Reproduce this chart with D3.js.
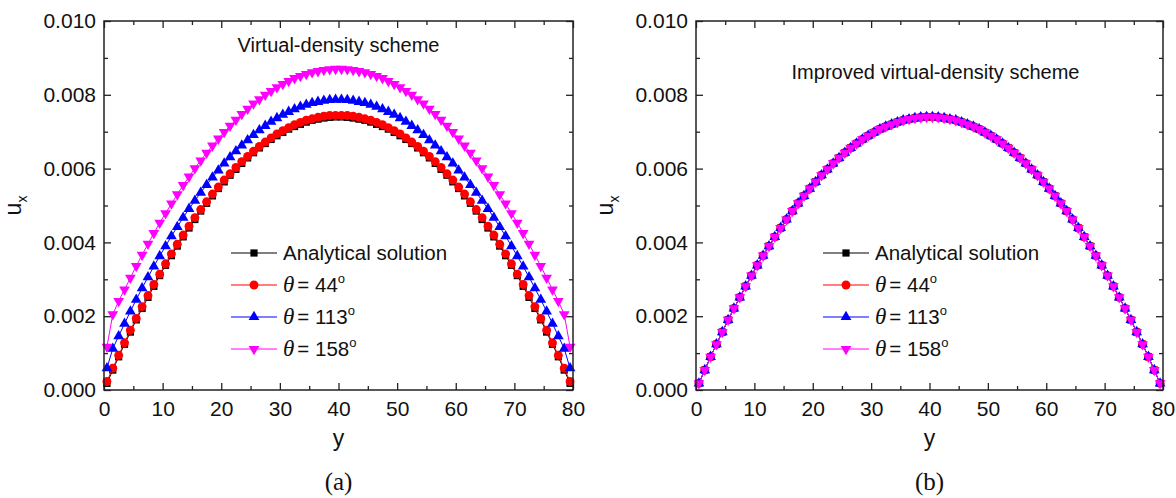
<!DOCTYPE html>
<html>
<head>
<meta charset="utf-8">
<script src="https://cdn.jsdelivr.net/npm/d3@7"></script>
<style>
  body { margin: 0; background: #fff; }
  svg { display: block; font-family: Arial, "Liberation Sans", sans-serif; }
</style>
</head>
<body>
<svg id="chart" width="1176" height="498"></svg>
<script>
// lattice position y (x axis)
const yPos = [0.5,1.5,2.5,3.5,4.5,5.5,6.5,7.5,8.5,9.5,10.5,11.5,12.5,13.5,14.5,15.5,16.5,17.5,18.5,19.5,
  20.5,21.5,22.5,23.5,24.5,25.5,26.5,27.5,28.5,29.5,30.5,31.5,32.5,33.5,34.5,35.5,36.5,37.5,38.5,39.5,
  40.5,41.5,42.5,43.5,44.5,45.5,46.5,47.5,48.5,49.5,50.5,51.5,52.5,53.5,54.5,55.5,56.5,57.5,58.5,59.5,
  60.5,61.5,62.5,63.5,64.5,65.5,66.5,67.5,68.5,69.5,70.5,71.5,72.5,73.5,74.5,75.5,76.5,77.5,78.5,79.5];

// u_x values, in units of 1e-3
const analytical = [0.18,0.54,0.90,1.24,1.57,1.90,2.21,2.51,2.81,3.10,3.38,3.64,3.90,4.15,4.39,4.62,4.85,5.06,5.26,5.46,
  5.64,5.82,5.98,6.14,6.29,6.43,6.56,6.68,6.79,6.89,6.98,7.07,7.14,7.20,7.26,7.31,7.34,7.37,7.39,7.40,
  7.40,7.39,7.37,7.34,7.31,7.26,7.20,7.14,7.07,6.98,6.89,6.79,6.68,6.56,6.43,6.29,6.14,5.98,5.82,5.64,
  5.46,5.26,5.06,4.85,4.62,4.39,4.15,3.90,3.64,3.38,3.10,2.81,2.51,2.21,1.90,1.57,1.24,0.90,0.54,0.18];

// (a) virtual-density scheme
const vd44 = [0.23,0.59,0.94,1.28,1.62,1.94,2.26,2.56,2.86,3.14,3.42,3.69,3.95,4.20,4.44,4.67,4.89,5.10,5.31,5.50,
  5.69,5.86,6.03,6.19,6.33,6.47,6.60,6.72,6.83,6.94,7.03,7.11,7.19,7.25,7.31,7.35,7.39,7.42,7.44,7.44,
  7.44,7.44,7.42,7.39,7.35,7.31,7.25,7.19,7.11,7.03,6.94,6.83,6.72,6.60,6.47,6.33,6.19,6.03,5.86,5.69,
  5.50,5.31,5.10,4.89,4.67,4.44,4.20,3.95,3.69,3.42,3.14,2.86,2.56,2.26,1.94,1.62,1.28,0.94,0.59,0.23];
const vd113 = [0.59,1.12,1.46,1.80,2.13,2.45,2.76,3.06,3.35,3.63,3.90,4.17,4.42,4.67,4.91,5.13,5.35,5.56,5.76,5.95,
  6.14,6.31,6.47,6.63,6.77,6.91,7.04,7.16,7.27,7.37,7.46,7.54,7.61,7.68,7.73,7.78,7.81,7.84,7.86,7.87,
  7.87,7.86,7.84,7.81,7.78,7.73,7.68,7.61,7.54,7.46,7.37,7.27,7.16,7.04,6.91,6.77,6.63,6.47,6.31,6.14,
  5.95,5.76,5.56,5.35,5.13,4.91,4.67,4.42,4.17,3.90,3.63,3.35,3.06,2.76,2.45,2.13,1.80,1.46,1.12,0.59];
const vd158 = [1.17,2.05,2.41,2.72,3.04,3.36,3.66,3.96,4.25,4.53,4.79,5.05,5.30,5.55,5.78,6.01,6.22,6.43,6.62,6.81,
  6.99,7.16,7.32,7.48,7.62,7.76,7.88,8.00,8.10,8.20,8.29,8.37,8.45,8.51,8.56,8.61,8.64,8.67,8.69,8.70,
  8.70,8.69,8.67,8.64,8.61,8.56,8.51,8.45,8.37,8.29,8.20,8.10,8.00,7.88,7.76,7.62,7.48,7.32,7.16,6.99,
  6.81,6.62,6.43,6.22,6.01,5.78,5.55,5.30,5.05,4.79,4.53,4.25,3.96,3.66,3.36,3.04,2.72,2.41,2.05,1.17];

// (b) improved scheme: all three angles sit on the analytical curve
const ivd44 = analytical;
const ivd113 = analytical;
const ivd158 = analytical;

const xTicks = [0, 10, 20, 30, 40, 50, 60, 70, 80];
const xMinor = [5, 15, 25, 35, 45, 55, 65, 75];
const yTicks = [0, 0.002, 0.004, 0.006, 0.008, 0.010];
const yMinor = [0.001, 0.003, 0.005, 0.007, 0.009];
const labels = ["Analytical solution", "44", "113", "158"];
const colors = ["#000000", "#ff0000", "#0000ff", "#ff00ff"];
const UNIT = 1e-3;

const svg = d3.select("#chart");
const plotTop = 21, plotBottom = 390;

const symbols = [
  d3.symbol().type(d3.symbolSquare).size(52),
  d3.symbol().type(d3.symbolCircle).size(62),
  d3.symbol().type(d3.symbolTriangle).size(50),
  d3.symbol().type(d3.symbolTriangle).size(50)
];
const rotations = [0, 0, 0, 180];

function drawPanel(left, right, series, note, noteX, noteY, caption) {
  const g = svg.append("g");
  const x = d3.scaleLinear().domain([0, 80]).range([left, right]);
  const y = d3.scaleLinear().domain([0, 0.010]).range([plotBottom, plotTop]);

  // axes with inward ticks
  g.append("g").attr("transform", `translate(0,${plotBottom})`)
    .call(d3.axisBottom(x).tickValues(xTicks).tickSize(-7).tickPadding(11).tickFormat(d3.format("d")));
  g.append("g").attr("transform", `translate(0,${plotBottom})`)
    .call(d3.axisBottom(x).tickValues(xMinor).tickSize(-4).tickFormat(""));
  g.append("g").attr("transform", `translate(0,${plotTop})`)
    .call(d3.axisTop(x).tickValues(xTicks).tickSize(-7).tickFormat(""));
  g.append("g").attr("transform", `translate(0,${plotTop})`)
    .call(d3.axisTop(x).tickValues(xMinor).tickSize(-4).tickFormat(""));
  g.append("g").attr("transform", `translate(${left},0)`)
    .call(d3.axisLeft(y).tickValues(yTicks).tickSize(-7).tickPadding(8).tickFormat(d3.format(".3f")));
  g.append("g").attr("transform", `translate(${left},0)`)
    .call(d3.axisLeft(y).tickValues(yMinor).tickSize(-4).tickFormat(""));
  g.append("g").attr("transform", `translate(${right},0)`)
    .call(d3.axisRight(y).tickValues(yTicks).tickSize(-7).tickFormat(""));
  g.append("g").attr("transform", `translate(${right},0)`)
    .call(d3.axisRight(y).tickValues(yMinor).tickSize(-4).tickFormat(""));

  g.selectAll(".domain").remove();
  g.selectAll(".tick line").attr("stroke", "#222").attr("stroke-width", 1.3);
  g.selectAll(".tick text").attr("fill", "#111").style("font-size", "21px");

  // series
  series.forEach((vals, i) => {
    const pts = vals.map((v, k) => [yPos[k], v * UNIT]);
    g.append("path")
      .datum(pts)
      .attr("fill", "none")
      .attr("stroke", colors[i])
      .attr("stroke-width", 1)
      .attr("d", d3.line().x(d => x(d[0])).y(d => y(d[1])));
    g.selectAll(null)
      .data(pts)
      .enter().append("path")
      .attr("d", symbols[i])
      .attr("fill", colors[i])
      .attr("transform", d => `translate(${x(d[0])},${y(d[1])}) rotate(${rotations[i]})`);
  });

  // frame
  g.append("rect")
    .attr("x", left).attr("y", plotTop)
    .attr("width", right - left).attr("height", plotBottom - plotTop)
    .attr("fill", "none").attr("stroke", "#222").attr("stroke-width", 1.5);

  // legend
  const lx = left + 127;
  labels.forEach((lab, i) => {
    const ry = 253 + i * 32;
    g.append("line")
      .attr("x1", lx).attr("x2", lx + 46).attr("y1", ry).attr("y2", ry)
      .attr("stroke", colors[i]).attr("stroke-width", 1);
    g.append("path")
      .attr("d", symbols[i])
      .attr("fill", colors[i])
      .attr("transform", `translate(${lx + 23},${ry}) rotate(${rotations[i]})`);
    const t = g.append("text")
      .attr("x", lx + 52).attr("y", ry).attr("dy", "0.36em")
      .style("font-size", "20.5px").attr("fill", "#111");
    if (i === 0) {
      t.text(lab);
    } else {
      t.append("tspan").text("\u03B8")
        .style("font-family", "'Liberation Serif', 'Times New Roman', serif")
        .style("font-style", "italic").style("font-size", "23px");
      t.append("tspan").text("= " + lab).attr("dx", 3);
      t.append("tspan").text("o").attr("dy", "-9").style("font-size", "13px");
    }
  });

  // annotation
  g.append("text")
    .attr("x", noteX).attr("y", noteY)
    .attr("text-anchor", "middle")
    .style("font-size", "20px").attr("fill", "#111")
    .text(note);

  // axis titles
  const cx = (left + right) / 2;
  g.append("text")
    .attr("x", cx).attr("y", 446)
    .attr("text-anchor", "middle")
    .style("font-size", "23px").attr("fill", "#111")
    .text("y");

  const ut = g.append("text")
    .attr("transform", `translate(${left - 83},${(plotTop + plotBottom) / 2}) rotate(-90)`)
    .attr("text-anchor", "middle")
    .style("font-size", "23px").attr("fill", "#111");
  ut.append("tspan").text("u");
  ut.append("tspan").text("x").attr("dy", 6).style("font-size", "14px");

  // caption
  g.append("text")
    .attr("x", cx).attr("y", 490)
    .attr("text-anchor", "middle")
    .style("font-family", "'Liberation Serif', 'Times New Roman', serif")
    .style("font-size", "25px").attr("fill", "#111")
    .text(caption);
}

drawPanel(104, 573, [analytical, vd44, vd113, vd158], "Virtual-density scheme", 338.5, 52, "(a)");
drawPanel(696, 1163, [analytical, ivd44, ivd113, ivd158], "Improved virtual-density scheme", 935.5, 79, "(b)");
</script>
</body>
</html>
